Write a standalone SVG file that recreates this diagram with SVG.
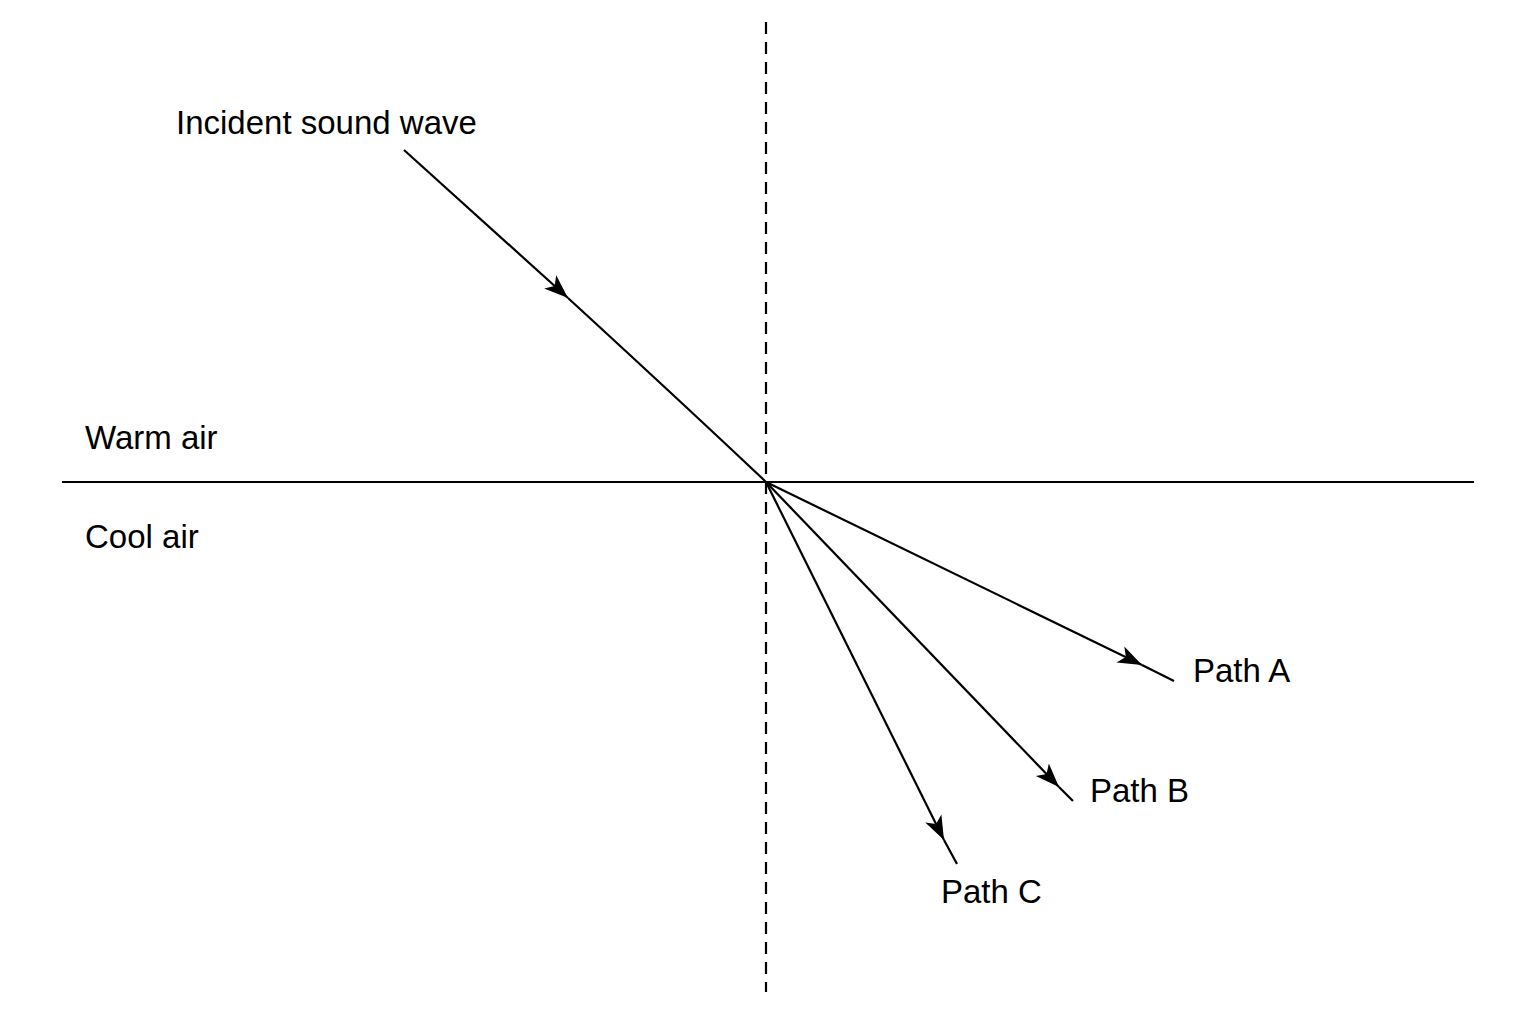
<svg xmlns="http://www.w3.org/2000/svg" width="1536" height="1024" viewBox="0 0 1536 1024">
<style>
.l{stroke:#000;stroke-width:2.2;fill:none}
.t{font-family:"Liberation Sans",Arial,sans-serif;font-size:33px;fill:#000}
</style>
<defs><marker id="a" markerWidth="26" markerHeight="20" viewBox="0 0 26 20" refX="24" refY="10" orient="auto" markerUnits="userSpaceOnUse"><path d="M0,1 L24,10 L0,19 L6,10 Z" fill="#000"/></marker></defs>
<rect width="1536" height="1024" fill="#fff"/>
<g id="axes">
<line class="l" x1="766" y1="22" x2="766" y2="992" stroke-dasharray="12,8"/>
<line class="l" x1="62" y1="482" x2="1474" y2="482"/>
</g>
<g id="connectors">
<path class="l" d="M404,150 L568,298" marker-end="url(#a)"/>
<path class="l" d="M568,298 Q690,410 766,482"/>
<path class="l" d="M766,482 L1142,665" marker-end="url(#a)"/>
<path class="l" d="M1142,665 L1174,681"/>
<path class="l" d="M766,482 L1059,787" marker-end="url(#a)"/>
<path class="l" d="M1059,787 L1073,801"/>
<path class="l" d="M766,482 L944,840" marker-end="url(#a)"/>
<path class="l" d="M944,840 L957,864"/>
</g>
<g id="labels">
<text class="t" x="176" y="134">Incident sound wave</text>
<text class="t" x="85" y="449">Warm air</text>
<text class="t" x="85" y="548">Cool air</text>
<text class="t" x="1193" y="682">Path A</text>
<text class="t" x="1090" y="802">Path B</text>
<text class="t" x="941" y="903">Path C</text>
</g>
</svg>
